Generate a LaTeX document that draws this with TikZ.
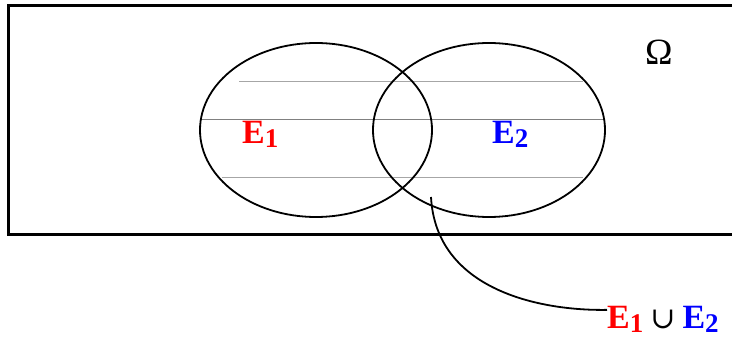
\documentclass[tikz,border=0pt]{standalone}
\usepackage{fontspec}
\setmainfont{Liberation Serif}
\newfontfamily\symfont{DejaVu Serif}
\usetikzlibrary{shapes.geometric}
\begin{document}
\begin{tikzpicture}[x=1pt,y=-1pt,
  setbox/.style={draw=black,line width=2.6pt},
  evt/.style={draw=black,line width=1.8pt,ellipse,minimum width=232pt,minimum height=174pt,inner sep=0pt},
  hatch/.style={line width=1pt,draw=black!35},
  hatchmid/.style={line width=1pt,draw=black!50},
  elabel/.style={font=\fontsize{34}{34}\selectfont\bfseries,inner sep=0pt,anchor=base west}
]
\useasboundingbox (0,0) rectangle (732,339);
% the sample space (right side runs off the picture)
\draw[setbox] (745,5.5) -- (8.5,5.5) -- (8.5,234.5) -- (745,234.5);
% gray lines
\draw[hatch] (239,82) -- (583,82);
\draw[hatchmid] (200,120) -- (605,120);
\draw[hatch] (222,178) -- (583,178);
% events
\node[evt] (e1) at (316,130) {};
\node[evt] (e2) at (489,130) {};
% labels
\node[elabel,text=red] (l1) at (242,144) {E\raisebox{-4pt}{\fontsize{27}{27}\selectfont 1}};
\node[elabel,text=blue] (l2) at (492,144) {E\raisebox{-4pt}{\fontsize{27}{27}\selectfont 2}};
\node[font=\fontsize{37}{37}\selectfont,inner sep=0pt,anchor=base west] (om) at (645,65) {Ω};
% union label
\node[elabel,anchor=base west] (u) at (607,329) {\textcolor{red}{E\raisebox{-4pt}{\fontsize{27}{27}\selectfont 1}}\hspace{7pt}{\mdseries\symfont\fontsize{30}{30}\selectfont ∪}\hspace{7pt}\textcolor{blue}{E\raisebox{-4pt}{\fontsize{27}{27}\selectfont 2}}};
\coordinate (cs) at (431,197);
\draw[line width=1.8pt] (cs) .. controls (436,290) and (540,311) .. ([yshift=10pt]u.west);
\end{tikzpicture}
\end{document}
